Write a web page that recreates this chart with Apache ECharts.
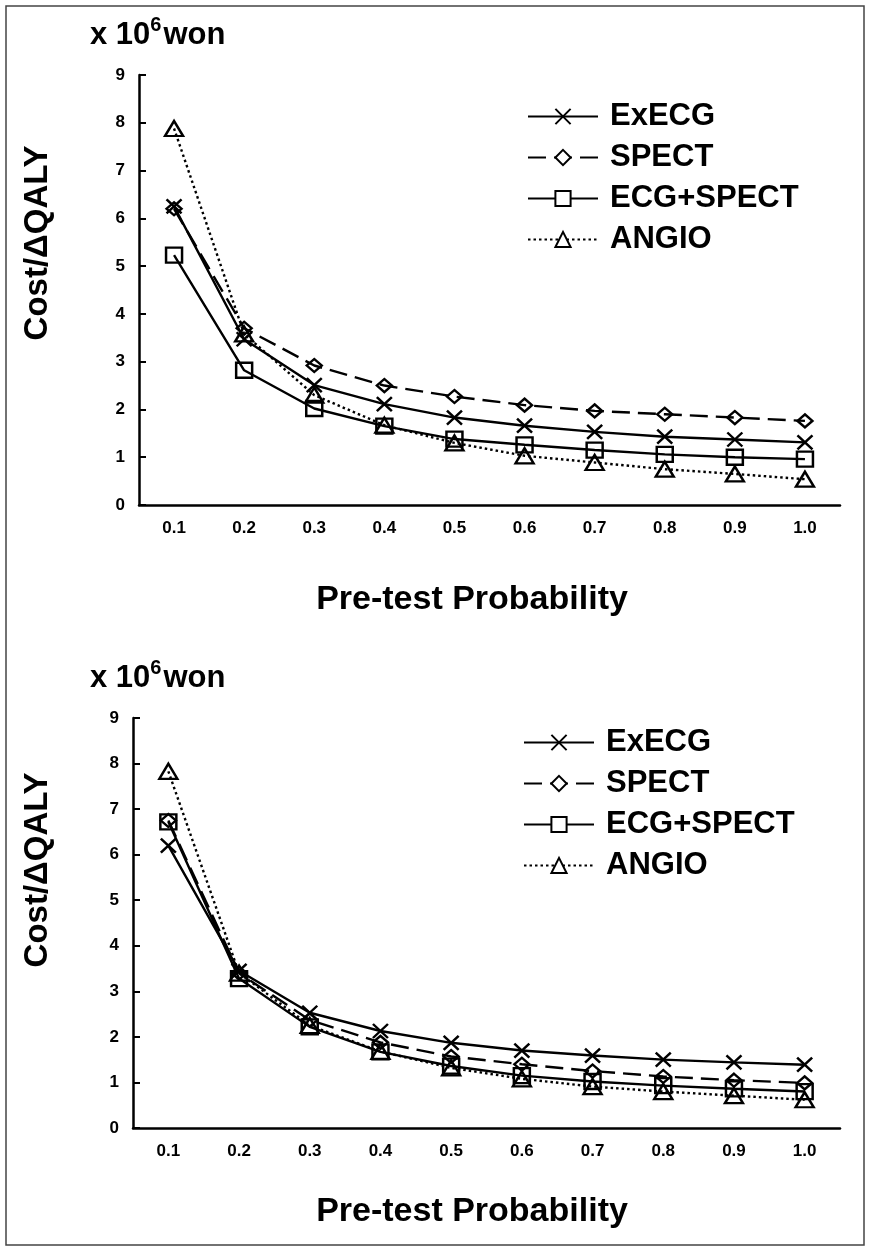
<!DOCTYPE html>
<html>
<head>
<meta charset="utf-8">
<script src="https://cdn.jsdelivr.net/npm/echarts@6/dist/echarts.min.js"></script>
<style>
html,body{margin:0;padding:0;background:#fff;}
#c{width:869px;height:1250px;}
</style>
</head>
<body>
<div id="c"></div>
<script>
// ---- data ----
const categories = ['0.1','0.2','0.3','0.4','0.5','0.6','0.7','0.8','0.9','1.0'];
const yTicks = [0,1,2,3,4,5,6,7,8,9];
const seriesNames = ['ExECG','SPECT','ECG+SPECT','ANGIO'];

// top panel
const topExECG    = [6.25, 3.47, 2.51, 2.11, 1.83, 1.66, 1.53, 1.43, 1.37, 1.31];
const topSPECT    = [6.20, 3.70, 2.92, 2.50, 2.27, 2.09, 1.97, 1.90, 1.83, 1.76];
const topECGSPECT = [5.23, 2.82, 2.02, 1.65, 1.38, 1.26, 1.15, 1.06, 1.00, 0.96];
const topANGIO    = [7.88, 3.58, 2.30, 1.67, 1.30, 1.03, 0.89, 0.75, 0.65, 0.54];

// bottom panel
const botExECG    = [6.20, 3.45, 2.53, 2.13, 1.87, 1.70, 1.59, 1.50, 1.44, 1.39];
const botSPECT    = [6.75, 3.40, 2.37, 1.88, 1.57, 1.40, 1.25, 1.13, 1.05, 0.99];
const botECGSPECT = [6.72, 3.28, 2.22, 1.67, 1.36, 1.15, 1.02, 0.93, 0.86, 0.80];
const botANGIO    = [7.83, 3.40, 2.25, 1.68, 1.32, 1.08, 0.91, 0.80, 0.71, 0.62];

const FONT = '"Liberation Sans", Arial, Helvetica, sans-serif';

const styles = {
  'ExECG':     {symbol:'path://M0,0L10,10M10,0L0,10', size:[15,14], line:'solid'},
  'SPECT':     {symbol:'diamond', size:[15,13], line:[18,8]},
  'ECG+SPECT': {symbol:'rect', size:[16,15], line:'solid'},
  'ANGIO':     {symbol:'triangle', size:[18,15], line:[2.5,3]}
};

function mk(name, data, idx){
  const s = styles[name];
  return {
    name: name, type:'line', xAxisIndex: idx, yAxisIndex: idx,
    data: data, symbol: s.symbol, symbolSize: s.size,
    showAllSymbol: true,
    color:'#000',
    lineStyle:{color:'#000', width:2.4, type:s.line},
    itemStyle:{color:'rgba(0,0,0,0)', borderColor:'#000', borderWidth:2.4},
    emphasis:{disabled:true},
    animation:false, z: 3
  };
}

function xAx(idx){
  return {
    type:'category', gridIndex: idx, data: categories, boundaryGap:true,
    axisLine:{lineStyle:{color:'#000', width:2.5}},
    axisTick:{inside:true, alignWithLabel:true, length:7, lineStyle:{color:'#000', width:2}},
    axisLabel:{color:'#000', fontFamily:FONT, fontWeight:'bold', fontSize:17, margin:15},
    splitLine:{show:false}
  };
}
function yAx(idx){
  return {
    type:'value', gridIndex: idx, min: yTicks[0], max: yTicks[yTicks.length-1], interval:1,
    axisLine:{show:true, lineStyle:{color:'#000', width:2.5}},
    axisTick:{show:true, inside:true, length:7, lineStyle:{color:'#000', width:2}},
    axisLabel:{color:'#000', fontFamily:FONT, fontWeight:'bold', fontSize:17, margin:14},
    splitLine:{show:false}
  };
}

function legend(top, left){
  return {
    orient:'vertical', left:left, top:top,
    data: seriesNames,
    itemWidth:70, itemHeight:19, itemGap:10,
    itemStyle:{color:'#fff'},
    textStyle:{color:'#000', fontFamily:FONT, fontWeight:'bold', fontSize:31, lineHeight:30, padding:[0,0,0,7]},
    selectedMode:false
  };
}

function unitText(x, y){
  return {
    type:'text', x:x, y:y,
    style:{
      text:'{a|x 10}{s|6}{a|won}',
      textVerticalAlign:'middle',
      rich:{
        a:{fontFamily:FONT, fontWeight:'bold', fontSize:31, fill:'#000', lineHeight:36, verticalAlign:'bottom'},
        s:{fontFamily:FONT, fontWeight:'bold', fontSize:20, fill:'#000', lineHeight:36, verticalAlign:'top', padding:[0,2,0,0]}
      }
    }
  };
}
function yName(x, y){
  return {
    type:'text', x:x, y:y, rotation:Math.PI/2,
    style:{text:'Cost/\u0394QALY', fontFamily:FONT, fontWeight:'bold', fontSize:33, fill:'#000', textAlign:'center', textVerticalAlign:'middle'}
  };
}
function xName(x, y){
  return {
    type:'text', x:x, y:y,
    style:{text:'Pre-test Probability', fontFamily:FONT, fontWeight:'bold', fontSize:34, fill:'#000', textAlign:'center', textVerticalAlign:'middle'}
  };
}

const chart = echarts.init(document.getElementById('c'), null, {renderer:'canvas'});
chart.setOption({
  backgroundColor:'#fff',
  animation:false,
  grid:[
    {left:139, right:29, top:75, height:430},
    {left:133, right:29, top:718, height:410}
  ],
  xAxis:[xAx(0), xAx(1)],
  yAxis:[yAx(0), yAx(1)],
  legend:[legend(96, 522), legend(722, 518)],
  series:[
    mk('ExECG', topExECG, 0), mk('SPECT', topSPECT, 0), mk('ECG+SPECT', topECGSPECT, 0), mk('ANGIO', topANGIO, 0),
    mk('ExECG', botExECG, 1), mk('SPECT', botSPECT, 1), mk('ECG+SPECT', botECGSPECT, 1), mk('ANGIO', botANGIO, 1)
  ],
  graphic:[
    {type:'rect', shape:{x:6, y:6, width:858, height:1239}, style:{fill:'none', stroke:'#444', lineWidth:1.5}, silent:true},
    unitText(90, 33), unitText(90, 676),
    yName(38, 243), yName(38, 870),
    xName(472, 600), xName(472, 1212)
  ]
});
</script>
</body>
</html>
